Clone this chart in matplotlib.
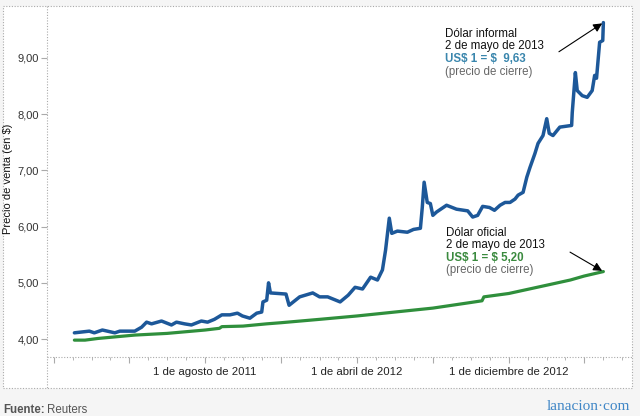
import pandas as pd
import matplotlib
matplotlib.use("Agg")
import matplotlib.pyplot as plt
import matplotlib.dates as mdates
from matplotlib.patches import Rectangle
from matplotlib.lines import Line2D

plt.rcParams['font.family'] = ['Liberation Sans', 'DejaVu Sans']

# dolar informal (blue), precio de venta
informal_dates = ["2011-01-03", "2011-01-27", "2011-02-04", "2011-02-17", "2011-03-09", "2011-03-17",
                  "2011-04-10", "2011-04-21", "2011-04-29", "2011-05-07", "2011-05-23", "2011-06-08",
                  "2011-06-16", "2011-06-29", "2011-07-10", "2011-07-26", "2011-08-05", "2011-08-16",
                  "2011-08-28", "2011-09-10", "2011-09-22", "2011-09-30", "2011-10-12", "2011-10-23",
                  "2011-10-31", "2011-11-02", "2011-11-08", "2011-11-11", "2011-11-14", "2011-12-09",
                  "2011-12-14", "2011-12-31", "2012-01-21", "2012-02-01", "2012-02-14", "2012-03-05",
                  "2012-03-18", "2012-03-29", "2012-04-10", "2012-04-23", "2012-05-04", "2012-05-12",
                  "2012-05-17", "2012-05-23", "2012-05-27", "2012-06-05", "2012-06-21", "2012-07-01",
                  "2012-07-12", "2012-07-15", "2012-07-18", "2012-07-23", "2012-07-28", "2012-08-01",
                  "2012-08-07", "2012-08-23", "2012-09-08", "2012-09-26", "2012-10-04", "2012-10-12",
                  "2012-10-20", "2012-10-31", "2012-11-08", "2012-11-17", "2012-11-25", "2012-12-03",
                  "2012-12-11", "2012-12-16", "2012-12-24", "2012-12-30",
                  "2013-01-04", "2013-01-12", "2013-01-17", "2013-01-25", "2013-01-31", "2013-02-04",
                  "2013-02-10", "2013-02-21", "2013-03-12", "2013-03-13", "2013-03-18", "2013-03-21",
                  "2013-03-29", "2013-04-06", "2013-04-14", "2013-04-18", "2013-04-21", "2013-04-26",
                  "2013-05-01", "2013-05-02"]
informal_values = [4.11, 4.14, 4.11, 4.16, 4.11, 4.14,
                   4.14, 4.21, 4.30, 4.27, 4.32, 4.25,
                   4.30, 4.27, 4.25, 4.32, 4.30, 4.35,
                   4.43, 4.43, 4.46, 4.41, 4.37, 4.46,
                   4.48, 4.66, 4.69, 5.00, 4.82, 4.80,
                   4.60, 4.75, 4.82, 4.75, 4.75, 4.66,
                   4.78, 4.92, 4.89, 5.10, 5.05, 5.23,
                   5.58, 6.15, 5.88, 5.92, 5.90, 5.95,
                   5.97, 6.34, 6.79, 6.43, 6.41, 6.20,
                   6.26, 6.38, 6.31, 6.28, 6.17, 6.20,
                   6.36, 6.34, 6.29, 6.38, 6.43, 6.43,
                   6.49, 6.56, 6.61, 6.88,
                   7.05, 7.30, 7.48, 7.62, 7.92, 7.66,
                   7.62, 7.77, 7.80, 8.03, 8.74, 8.42,
                   8.33, 8.30, 8.42, 8.69, 8.64, 9.28,
                   9.31, 9.63]

# dolar oficial (green)
oficial_dates = ["2011-01-03", "2011-01-20", "2011-02-10", "2011-04-10", "2011-06-01", "2011-08-01",
                 "2011-08-24", "2011-08-28", "2011-10-01", "2011-11-08", "2011-12-01", "2012-02-01",
                 "2012-04-01", "2012-06-01", "2012-08-01", "2012-10-01", "2012-10-19", "2012-10-22",
                 "2012-12-01", "2013-02-01", "2013-03-10", "2013-04-01", "2013-05-02"]
oficial_values = [3.98, 3.98, 4.01, 4.07, 4.10, 4.16,
                  4.19, 4.22, 4.23, 4.27, 4.29, 4.35,
                  4.41, 4.48, 4.55, 4.65, 4.68, 4.75,
                  4.81, 4.96, 5.05, 5.12, 5.20]

y_ticks = [4, 5, 6, 7, 8, 9]
y_labels = ["4,00", "5,00", "6,00", "7,00", "8,00", "9,00"]
x_ticks = ["2010-12-01", "2011-04-01", "2011-08-01", "2011-12-01", "2012-04-01",
           "2012-08-01", "2012-12-01", "2013-04-01"]
x_labels = ["", "", "1 de agosto de 2011", "", "1 de abril de 2012", "",
            "1 de diciembre de 2012", ""]

W, H = 640, 416


def fx(x):
    return x / W


def fy(y):
    return 1 - y / H


fig = plt.figure(figsize=(6.4, 4.16), dpi=100, facecolor="#f5f5f5")

# white frame with dotted border
frame = Rectangle((fx(3), fy(388)), fx(632) - fx(3), fy(6) - fy(388), transform=fig.transFigure,
                  facecolor="white", edgecolor="#aaaaaa", linestyle=(0, (1, 1.5)), linewidth=0.8, zorder=0)
fig.add_artist(frame)
fig.add_artist(Line2D([fx(47), fx(47)], [fy(6), fy(388)], transform=fig.transFigure,
                      color="#aaaaaa", linestyle=(0, (1, 1.5)), linewidth=0.8))
fig.add_artist(Line2D([fx(47), fx(632)], [fy(357), fy(357)], transform=fig.transFigure,
                      color="#aaaaaa", linestyle=(0, (1, 1.5)), linewidth=0.8))

ax = fig.add_axes([fx(47), fy(357), fx(632) - fx(47), fy(6) - fy(357)])
ax.set_facecolor("none")

d_inf = pd.to_datetime(informal_dates)
d_of = pd.to_datetime(oficial_dates)
ax.plot(d_of, oficial_values, color="#2f8f3c", lw=2.3, solid_capstyle="round", solid_joinstyle="round")
ax.plot(d_inf, informal_values, color="#1d5899", lw=2.5, solid_capstyle="round", solid_joinstyle="round")

ax.set_xlim(pd.Timestamp("2010-11-20"), pd.Timestamp("2013-06-17"))
ax.set_ylim(3.68, 9.925)

for s in ax.spines.values():
    s.set_visible(False)

ax.set_yticks(y_ticks)
ax.set_yticklabels(y_labels)
ax.set_xticks(pd.to_datetime(x_ticks))
ax.set_xticklabels(x_labels)
ax.xaxis.set_minor_locator(mdates.MonthLocator())
ax.tick_params(axis="y", length=4, width=0.8, color="#aaaaaa", labelcolor="#333333", labelsize=8, pad=2)
ax.tick_params(axis="x", which="major", length=4, width=0.8, color="#aaaaaa",
               labelcolor="#222222", labelsize=8.2, pad=3)
ax.tick_params(axis="x", which="minor", length=2, width=0.6, color="#aaaaaa")

fig.text(fx(8), fy(179), "Precio de venta (en $)", rotation=90, ha="center", va="center",
         fontsize=8, color="#111111", parse_math=False)

# annotations
last_inf = (d_inf[-1], informal_values[-1])
last_of = (d_of[-1], oficial_values[-1])
arrow = dict(arrowstyle="-|>", color="black", lw=0.8, mutation_scale=13, shrinkA=0, shrinkB=1)
ax.annotate("", xy=last_inf, xytext=(-32, -21), textcoords="offset points", arrowprops=arrow)
ax.annotate("", xy=last_of, xytext=(-24, 14), textcoords="offset points", arrowprops=arrow)

fs = 8.3
fig.text(fx(445), fy(34), "Dólar informal", fontsize=fs, color="#111111", va="center")
fig.text(fx(445), fy(46), "2 de mayo de 2013", fontsize=fs, color="#111111", va="center")
fig.text(fx(445), fy(59), "US$ 1 = $  9,63", fontsize=fs, color="#3a86ad", weight="bold", va="center",
         parse_math=False)
fig.text(fx(445), fy(72), "(precio de cierre)", fontsize=fs, color="#666666", va="center")

fig.text(fx(446), fy(233), "Dólar oficial", fontsize=fs, color="#111111", va="center")
fig.text(fx(446), fy(245), "2 de mayo de 2013", fontsize=fs, color="#111111", va="center")
fig.text(fx(446), fy(258), "US$ 1 = $ 5,20", fontsize=fs, color="#3a8a3e", weight="bold", va="center",
         parse_math=False)
fig.text(fx(446), fy(270), "(precio de cierre)", fontsize=fs, color="#666666", va="center")

# footer
fig.text(fx(3), fy(410), "Fuente:", fontsize=8.3, color="#555555", weight="bold", va="center")
fig.text(fx(47), fy(410), "Reuters", fontsize=8.3, color="#555555", va="center")
fig.text(fx(630), fy(407), "lanacion·com", fontsize=11, color="#3f86c6", ha="right", va="center",
         family=["Liberation Serif", "DejaVu Serif"])

fig.savefig("out.png", dpi=100, facecolor=fig.get_facecolor())
